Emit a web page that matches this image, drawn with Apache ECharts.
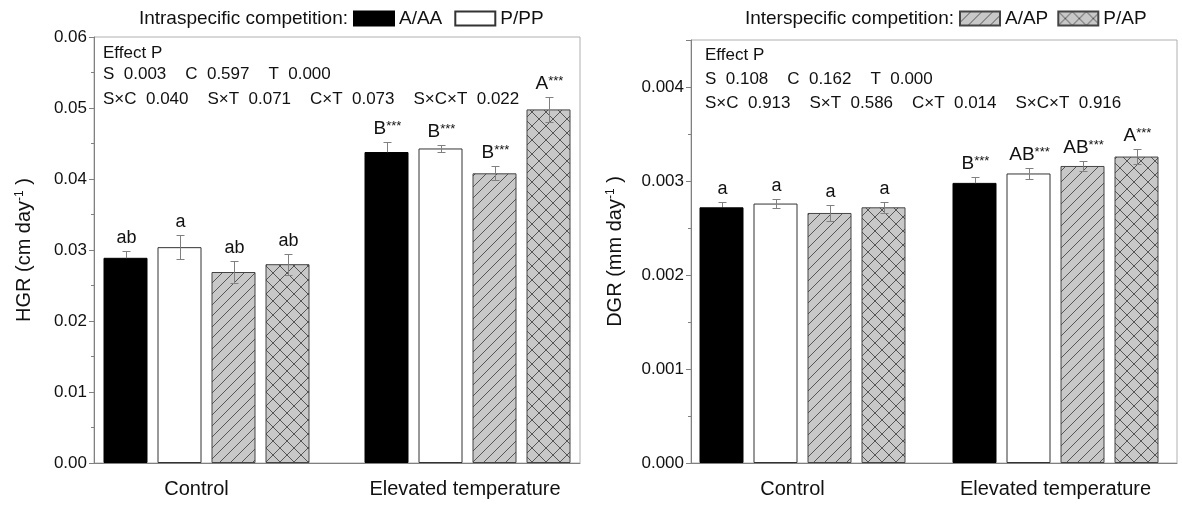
<!DOCTYPE html>
<html>
<head>
<meta charset="utf-8">
<script src="https://cdn.jsdelivr.net/npm/echarts@6/dist/echarts.min.js"></script>
<style>
html, body { margin: 0; padding: 0; background: #fff; }
#main { width: 1182px; height: 508px; }
</style>
</head>
<body>
<div id="main"></div>
<script>
var categories = ['Control', 'Elevated temperature'];
var groups = ['A/AA', 'P/PP', 'A/AP', 'P/AP'];

// HGR (cm/day), one row per group: [control, elevated]
var hgrMean = [[0.0289, 0.0438], [0.0304, 0.0443], [0.0269, 0.0408], [0.0280, 0.0498]];
var hgrErr = [[0.0010, 0.0014], [0.0017, 0.0005], [0.0015, 0.0010], [0.0015, 0.0018]];
var hgrLetters = [['ab', 'B***'], ['a', 'B***'], ['ab', 'B***'], ['ab', 'A***']];

// DGR (mm/day)
var dgrMean = [[0.00272, 0.00298], [0.00276, 0.00308], [0.00266, 0.00316], [0.00272, 0.00326]];
var dgrErr = [[0.00006, 0.00006], [0.00005, 0.00006], [0.00009, 0.00005], [0.00006, 0.00008]];
var dgrLetters = [['a', 'B***'], ['a', 'AB***'], ['a', 'AB***'], ['a', 'A***']];

var hgrEffects = [
    'Effect P',
    'S  0.003    C  0.597    T  0.000',
    'S\u00d7C  0.040    S\u00d7T  0.071    C\u00d7T  0.073    S\u00d7C\u00d7T  0.022'
];
var dgrEffects = [
    'Effect P',
    'S  0.108    C  0.162    T  0.000',
    'S\u00d7C  0.913    S\u00d7T  0.586    C\u00d7T  0.014    S\u00d7C\u00d7T  0.916'
];

var FONT = '"Liberation Sans", Arial, sans-serif';

// hatch fills for the interspecific bars
function hatch(cross) {
    var s = cross ? 14 : 11;
    var c = document.createElement('canvas');
    c.width = s; c.height = s;
    var g = c.getContext('2d');
    g.fillStyle = '#c8c8c8';
    g.fillRect(0, 0, s, s);
    g.strokeStyle = '#555';
    g.lineWidth = 1;
    g.beginPath();
    g.moveTo(-1, s + 1); g.lineTo(s + 1, -1);
    if (cross) { g.moveTo(-1, -1); g.lineTo(s + 1, s + 1); }
    g.stroke();
    return c;
}

var barStyles = [
    {color: '#000', borderColor: '#000', borderWidth: 1},
    {color: '#fff', borderColor: '#333', borderWidth: 1},
    {color: {image: hatch(false), repeat: 'repeat'}, borderColor: '#444', borderWidth: 1},
    {color: {image: hatch(true), repeat: 'repeat'}, borderColor: '#444', borderWidth: 1}
];

var panels = [
    {
        mean: hgrMean, err: hgrErr, letters: hgrLetters, effects: hgrEffects,
        max: 0.06, interval: 0.01, digits: 2, showMax: true,
        name: '{a|HGR (cm day}{s|-1}{a| )}', nameGap: 60,
        frame: {left: 94, top: 37, width: 486, height: 426},
        bars: {left: 76, top: 37, width: 522, height: 426},
        title: 'Intraspecific competition:', titleRight: 348,
        legend: ['A/AA', 'P/PP'], legendLeft: 353, legendGap: 12,
        effectX: 103, effectY: [53, 74, 99]
    },
    {
        mean: dgrMean, err: dgrErr, letters: dgrLetters, effects: dgrEffects,
        max: 0.0045, interval: 0.001, digits: 3, showMax: false,
        name: '{a|DGR (mm day}{s|-1}{a| )}', nameGap: 66,
        frame: {left: 691, top: 40, width: 486, height: 423},
        bars: {left: 676, top: 40, width: 522, height: 423},
        title: 'Interspecific competition:', titleRight: 954,
        legend: ['A/AP', 'P/AP'], legendLeft: 959, legendGap: 9,
        effectX: 705, effectY: [55, 79, 103]
    }
];

var BAR_W = 44, BAR_GAP = 10;

function errorItem(panel, s) {
    return function (params, api) {
        var cat = api.value(0), m = api.value(1), e = api.value(2);
        var off = (s - 1.5) * (BAR_W + BAR_GAP);
        var top = api.coord([cat, m + e]);
        var mid = api.coord([cat, m]);
        var bot = api.coord([cat, m - e]);
        var x = Math.round(top[0] + off) + 0.5;
        var yt = Math.round(top[1]) + 0.5, ym = Math.round(mid[1]) + 0.5, yb = Math.round(bot[1]) + 0.5;
        var gray = '#808080';
        var low = s === 0 ? '#000' : gray;
        var letter = panel.letters[s][params.dataIndex];
        var parts = /^([A-Za-z]+)(\**)$/.exec(letter);
        var upper = parts[1] !== parts[1].toLowerCase();
        var txt = '{b|' + parts[1] + '}' + (parts[2] ? '{s|' + parts[2] + '}' : '');
        return {
            type: 'group',
            children: [
                {type: 'line', shape: {x1: x, y1: yt, x2: x, y2: ym}, style: {stroke: gray, lineWidth: 1}},
                {type: 'line', shape: {x1: x - 4, y1: yt, x2: x + 4, y2: yt}, style: {stroke: gray, lineWidth: 1}},
                {type: 'line', shape: {x1: x, y1: ym, x2: x, y2: yb}, style: {stroke: low, lineWidth: 1}},
                {type: 'line', shape: {x1: x - 4, y1: yb, x2: x + 4, y2: yb}, style: {stroke: low, lineWidth: 1}},
                {
                    type: 'text', x: x, y: yt - 4,
                    style: {
                        text: txt, align: 'center', verticalAlign: 'bottom', fill: '#111',
                        rich: {
                            b: {fontSize: upper ? 19 : 18, fontFamily: FONT, fill: '#111'},
                            s: {fontSize: 13, fontFamily: FONT, fill: '#111', verticalAlign: 'top'}
                        }
                    }
                }
            ]
        };
    };
}

var grid = [], xAxis = [], yAxis = [], series = [], legend = [], graphic = [];

panels.forEach(function (p, i) {
    var fa = i * 2, ba = i * 2 + 1;
    grid.push({left: p.frame.left, top: p.frame.top, width: p.frame.width, height: p.frame.height,
        show: true, borderColor: '#b0b0b0', borderWidth: 1});
    grid.push({left: p.bars.left, top: p.bars.top, width: p.bars.width, height: p.bars.height});

    xAxis.push({
        type: 'category', gridIndex: fa, data: categories,
        axisLine: {lineStyle: {color: '#808080'}}, axisTick: {show: false}, axisLabel: {show: false}
    });
    xAxis.push({
        type: 'category', gridIndex: ba, data: categories,
        axisLine: {show: false}, axisTick: {show: false},
        axisLabel: {
            margin: 16, color: '#111',
            formatter: function (v) { return v === 'Control' ? '{c|' + v + '}' : '{e|' + v + '}'; },
            rich: {
                c: {fontSize: 20, fontFamily: FONT, padding: [0, 20, 0, 0]},
                e: {fontSize: 20, fontFamily: FONT, padding: [0, i === 0 ? 5 : 0, 0, 0]}
            }
        }
    });

    yAxis.push({
        type: 'value', gridIndex: fa, min: 0, max: p.max, interval: p.interval,
        name: p.name, nameLocation: 'middle', nameGap: p.nameGap,
        nameTextStyle: {
            color: '#111',
            rich: {
                a: {fontSize: 20, fontFamily: FONT, color: '#111'},
                s: {fontSize: 12, fontFamily: FONT, color: '#111', verticalAlign: 'top'}
            }
        },
        axisLine: {show: true, lineStyle: {color: '#808080'}},
        axisTick: {show: true, length: 5, lineStyle: {color: '#808080'}},
        minorTick: {show: true, splitNumber: 2, length: 3, lineStyle: {color: '#808080'}},
        splitLine: {show: false},
        axisLabel: {
            margin: 7, fontSize: 17, fontFamily: FONT, color: '#111', showMaxLabel: p.showMax,
            formatter: (function (d) { return function (v) { return v.toFixed(d); }; })(p.digits)
        }
    });
    yAxis.push({type: 'value', gridIndex: ba, min: 0, max: p.max, show: false});

    groups.forEach(function (g, s) {
        series.push({
            type: 'bar', name: g, xAxisIndex: ba, yAxisIndex: ba,
            barWidth: BAR_W, barGap: (BAR_GAP / BAR_W * 100) + '%',
            itemStyle: barStyles[s], emphasis: {disabled: true},
            data: p.mean[s]
        });
        series.push({
            type: 'custom', name: g + ' error', xAxisIndex: ba, yAxisIndex: ba, z: 5,
            renderItem: errorItem(p, s),
            encode: {x: 0, y: 1},
            data: p.mean[s].map(function (m, c) { return [c, m, p.err[s][c]]; })
        });
    });

    legend.push({
        data: p.legend, left: p.legendLeft, top: 9, orient: 'horizontal', padding: 0,
        itemWidth: 40, itemHeight: 14, itemGap: p.legendGap, icon: 'rect',
        selectedMode: false,
        textStyle: {fontSize: 19, fontFamily: FONT, color: '#111'}
    });

    graphic.push({
        type: 'text', x: p.titleRight, y: 19,
        style: {text: p.title, align: 'right', verticalAlign: 'middle', font: '19px ' + FONT, fill: '#111'}
    });
    p.effects.forEach(function (line, k) {
        graphic.push({
            type: 'text', x: p.effectX, y: p.effectY[k],
            style: {text: line, align: 'left', verticalAlign: 'middle', font: '17px ' + FONT, fill: '#111'}
        });
    });
});

var myChart = echarts.init(document.getElementById('main'));
myChart.setOption({
    animation: false,
    backgroundColor: '#fff',
    grid: grid,
    xAxis: xAxis,
    yAxis: yAxis,
    legend: legend,
    graphic: graphic,
    series: series
});
</script>
</body>
</html>
